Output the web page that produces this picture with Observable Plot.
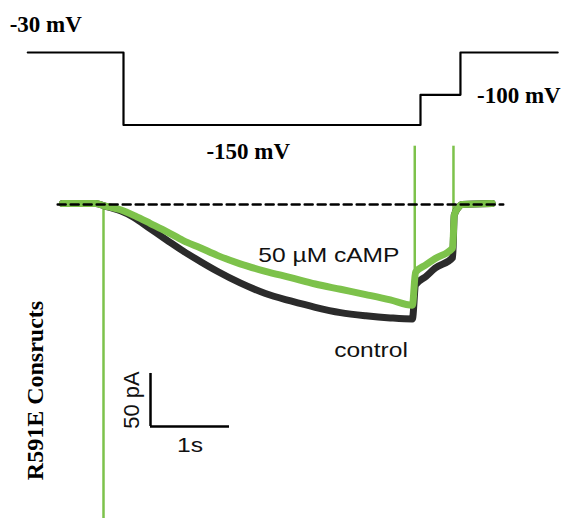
<!DOCTYPE html>
<html><head><meta charset="utf-8">
<script src="https://cdn.jsdelivr.net/npm/d3@7"></script>
<script src="https://cdn.jsdelivr.net/npm/@observablehq/plot@0.6"></script>
<style>
html,body{margin:0;padding:0;background:#fff;}
#chart{position:relative;width:565px;height:518px;overflow:hidden;background:#fff;}
#chart svg{position:absolute;left:0;top:0;}
</style></head><body><div id="chart"></div>
<script>
// ---- voltage protocol (mV vs s) ----
const protocolTime = [-1.27, 0, 3.94, 4.47, 5.76];
const protocolVoltage = [-30, -150, -100, -30, -30];
const protocolLabels = ["-30 mV", "-150 mV", "-100 mV"];
const protocolLabelTime = [-1.51, 1.10, 4.69];
const protocolLabelVoltage = [4.8, -205.5, -112.8];

// ---- current traces (pA vs s) ----
const controlTime = [-0.52, -0.3, -0.1, 0, 0.09, 0.215, 0.38, 0.595, 0.81, 1.01, 1.23, 1.44, 1.73, 2.05, 2.37, 2.68, 3.0, 3.32, 3.63, 3.91, 3.95, 4.08, 4.2, 4.42, 4.44, 4.49, 4.54, 4.92];
const controlCurrent = [1, 1, 1, -1, -3, -6, -12, -23, -34, -44, -54, -63, -74, -84, -91, -97, -102, -105, -107, -108, -76, -68, -60, -50, -10, -3, 0, 1];
const campTime = [-0.52, -0.3, -0.1, 0, 0.215, 0.405, 0.595, 0.81, 1.01, 1.23, 1.44, 1.73, 2.05, 2.37, 2.68, 3.0, 3.32, 3.63, 3.91, 3.95, 4.08, 4.2, 4.42, 4.44, 4.49, 4.54, 4.92];
const campCurrent = [1, 1, 1, -1, -5, -11, -18, -26, -34, -41, -48, -56, -63, -69, -75, -80, -85, -90, -95, -64, -57, -51, -41, -10, -3, 0, 1];
const spikeTime = [0, 3.94, 4.43];
const spikeLow = [-330, -96, -41];
const spikeHigh = [0, 55, 55];
const baselineTime = [-0.58, 5.06];
const baselineCurrent = [0, 0];
const traceLabels = ["50 µM cAMP", "control"];
const traceLabelTime = [1.96, 2.92];
const traceLabelCurrent = [-54.7, -143.4];
const scaleBarTime = [0.595, 1.595];      // 1 s
const scaleBarCurrent = [-209.4, -159.4]; // 50 pA
const scaleBarLabels = ["1s", "50 pA"];
const panelLabel = "R591E Consructs";

const GREEN = "#7dc24b";
const DARK = "#2b2b2b";
const SANS = "'Liberation Sans', Arial, Helvetica, sans-serif";
const SERIF = "'Liberation Serif', 'Times New Roman', serif";

const rows = (xs, ys) => xs.map((x, i) => ({x, y: ys[i]}));
const control = rows(controlTime, controlCurrent);
const camp = rows(campTime, campCurrent);
const spikes = spikeTime.map((t, i) => ({t, lo: spikeLow[i], hi: spikeHigh[i]}));
const baseline = rows(baselineTime, baselineCurrent);
const tLabels = traceLabels.map((s, i) => ({s, x: traceLabelTime[i], y: traceLabelCurrent[i]}));

const container = document.getElementById("chart");

// current panel
const currentPlot = Plot.plot({
  width: 565, height: 518,
  style: {background: "transparent", overflow: "visible"},
  x: {domain: [-1, 6], range: [24, 577], axis: null},
  y: {domain: [-300, 60], range: [522, 140.4], axis: null},
  marks: [
    Plot.ruleX(spikes, {x: "t", y1: "lo", y2: "hi", stroke: GREEN, strokeWidth: 2.5}),
    Plot.line(control, {x: "x", y: "y", curve: "monotone-x", stroke: DARK, strokeWidth: 7, strokeLinejoin: "round"}),
    Plot.line(camp, {x: "x", y: "y", curve: "monotone-x", stroke: GREEN, strokeWidth: 7, strokeLinejoin: "round"}),
    Plot.line(baseline, {x: "x", y: "y", stroke: "#000", strokeWidth: 2.5, strokeDasharray: "8,5"}),
    Plot.text(tLabels, {x: "x", y: "y", text: "s", textAnchor: "start", lineAnchor: "bottom",
      fontFamily: SANS, fontSize: 21, fill: "#111"}),
    // scale bar
    Plot.ruleX([scaleBarTime[0]], {y1: scaleBarCurrent[0], y2: scaleBarCurrent[1], stroke: "#000", strokeWidth: 2.5}),
    Plot.ruleY([scaleBarCurrent[0]], {x1: scaleBarTime[0], x2: scaleBarTime[1], stroke: "#000", strokeWidth: 2.5}),
    Plot.text([scaleBarLabels[0]], {x: (scaleBarTime[0] + scaleBarTime[1]) / 2, y: scaleBarCurrent[0], dy: 26,
      text: d => d, textAnchor: "middle", lineAnchor: "bottom", fontFamily: SANS, fontSize: 21, fill: "#111"}),
    Plot.text([scaleBarLabels[1]], {x: scaleBarTime[0], y: (scaleBarCurrent[0] + scaleBarCurrent[1]) / 2, dx: -12,
      text: d => d, rotate: -90, textAnchor: "middle", lineAnchor: "bottom", fontFamily: SANS, fontSize: 22, fill: "#111"}),
    Plot.text([panelLabel], {x: -0.76, y: -175.5, text: d => d, rotate: -90, textAnchor: "middle", lineAnchor: "bottom",
      fontFamily: SERIF, fontSize: 24, fontWeight: "bold", fill: "#000"})
  ]
});
container.appendChild(currentPlot);

// voltage protocol panel
const vLabels = protocolLabels.map((s, i) => ({s, x: protocolLabelTime[i], y: protocolLabelVoltage[i]}));
const voltagePlot = Plot.plot({
  width: 565, height: 518,
  style: {background: "transparent", overflow: "visible"},
  x: {domain: [-2, 6], range: [123 - 2 * 75.38, 123 + 6 * 75.38], axis: null},
  y: {domain: [0, -220], range: [33.9, 166.8], axis: null},
  marks: [
    Plot.line(rows(protocolTime, protocolVoltage), {x: "x", y: "y", curve: "step-after", stroke: "#000", strokeWidth: 2.2}),
    Plot.text(vLabels, {x: "x", y: "y", text: "s", textAnchor: "start", lineAnchor: "bottom",
      fontFamily: SERIF, fontSize: 23, fontWeight: "bold", fill: "#000"})
  ]
});
container.appendChild(voltagePlot);

// horizontal stretch of the labels that belong to the original (stretched) trace bitmap
const stretched = new Set([...traceLabels, scaleBarLabels[0]]);
d3.select(currentPlot).selectAll("text").each(function() {
  if (!stretched.has(this.textContent)) return;
  const w = this.getComputedTextLength();
  if (w > 0) {
    this.setAttribute("textLength", (w * 1.17).toFixed(1));
    this.setAttribute("lengthAdjust", "spacingAndGlyphs");
  }
});
</script></body></html>
